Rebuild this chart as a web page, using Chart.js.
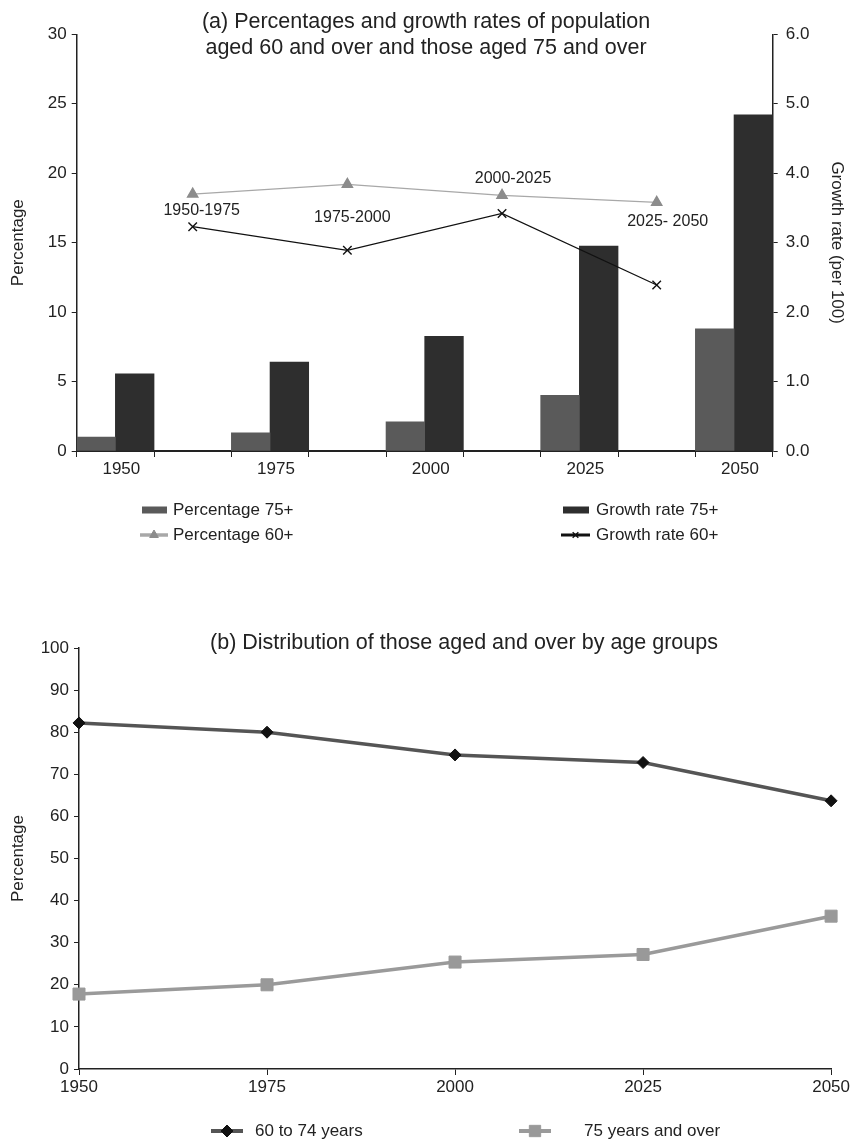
<!DOCTYPE html>
<html>
<head>
<meta charset="utf-8">
<script src="https://cdn.jsdelivr.net/npm/chart.js@4.4.0/dist/chart.umd.min.js"></script>
<style>
	body { margin: 0; background: #fff; }
	#wrap { position: relative; width: 852px; height: 1139px; }
	.box { position: absolute; left: 0; width: 852px; }
</style>
</head>
<body>
<div id="wrap">
	<div class="box" style="top: 0; height: 560px"><canvas id="top" width="852" height="560"></canvas></div>
	<div class="box" style="top: 560px; height: 579px"><canvas id="bottom" width="852" height="579"></canvas></div>
</div>
<script>
// years on the axis, and the periods in between them
const years = ["1950", "1975", "2000", "2025", "2050"]
const periods = ["1950-1975", "1975-2000", "2000-2025", "2025- 2050"]

// (a) bars, one per year
const pct75 = [1.0, 1.3, 2.1, 4.0, 8.8]          // left axis
const growth75 = [1.11, 1.28, 1.65, 2.95, 4.84]  // right axis

// (a) lines, one per period
const pct60 = [18.5, 19.2, 18.4, 17.9]           // left axis
const growth60 = [3.23, 2.89, 3.42, 2.39]        // right axis

// (b) distribution by age group
const share6074 = [82.2, 80.0, 74.6, 72.8, 63.7]
const share75 = [17.8, 20.0, 25.4, 27.2, 36.3]

const FONT = '"Liberation Sans", Arial, sans-serif'
const INK = "#222"

Chart.defaults.font.family = FONT
Chart.defaults.font.size = 17
Chart.defaults.color = INK

// years and periods take turns on the top axis
const slots = []
years.forEach((y, i) => {
	slots.push(y)
	if (i < periods.length) slots.push(periods[i])
})
const onYears = (arr) => slots.map((_, i) => (i % 2 === 0 ? arr[i / 2] : null))
const onPeriods = (arr) => slots.map((_, i) => (i % 2 === 1 ? arr[(i - 1) / 2] : null))

/*
 * titles, legends and the period labels
 */
const decor = {
	id: "decor",
	afterDatasetsDraw(chart, args, opts) {
		if (!opts.periodShift) return
		const ctx = chart.ctx
		const meta = chart.getDatasetMeta(opts.periodDataset)
		ctx.save()
		ctx.font = "16px " + FONT
		ctx.fillStyle = INK
		ctx.textAlign = "center"
		ctx.textBaseline = "middle"
		periods.forEach((t, k) => {
			const p = meta.data[2 * k + 1]
			const [dx, dy] = opts.periodShift[k]
			ctx.fillText(t, p.x + dx, p.y + dy)
		})
		ctx.restore()
	},
	afterDraw(chart, args, opts) {
		const ctx = chart.ctx
		ctx.save()
		ctx.fillStyle = INK
		ctx.textBaseline = "middle"
		ctx.textAlign = "center"
		ctx.font = "21.5px " + FONT
		;(opts.title || []).forEach((t) => ctx.fillText(t.text, t.x, t.y))

		ctx.textAlign = "left"
		;(opts.legend || []).forEach((it) => {
			const ds = chart.data.datasets[it.ds]
			const type = ds.type || chart.config.type
			if (type === "bar") {
				ctx.fillStyle = ds.backgroundColor
				ctx.fillRect(it.x0, it.y - 3.5, it.x1 - it.x0, 7)
			} else {
				ctx.strokeStyle = ds.borderColor
				ctx.lineWidth = it.lw
				ctx.beginPath()
				ctx.moveTo(it.x0, it.y)
				ctx.lineTo(it.x1, it.y)
				ctx.stroke()
				ctx.fillStyle = ds.pointBackgroundColor || ds.borderColor
				ctx.strokeStyle = ds.pointBorderColor || ds.borderColor
				ctx.lineWidth = ds.pointBorderWidth || 1
				Chart.helpers.drawPoint(ctx, {
					pointStyle: ds.pointStyle,
					rotation: 0,
					radius: it.r,
					borderWidth: ctx.lineWidth,
				}, (it.x0 + it.x1) / 2, it.y)
			}
			ctx.font = "17px " + FONT
			ctx.fillStyle = INK
			ctx.fillText(ds.label, it.tx, it.y)
		})
		ctx.restore()
	},
}

const axisGrid = (len) => ({
	drawOnChartArea: false,
	tickLength: len,
	color: INK,
	lineWidth: 1,
})

new Chart(document.getElementById("top"), {
	type: "bar",
	data: {
		labels: slots,
		datasets: [
			{
				label: "Percentage 75+",
				data: onYears(pct75),
				backgroundColor: "#5a5a5a",
				yAxisID: "y",
				order: 2,
			},
			{
				label: "Growth rate 75+",
				data: onYears(growth75),
				backgroundColor: "#2e2e2e",
				yAxisID: "y2",
				order: 2,
			},
			{
				type: "line",
				label: "Percentage 60+",
				data: onPeriods(pct60),
				borderColor: "#a8a8a8",
				borderWidth: 1.3,
				pointStyle: "triangle",
				pointRadius: 6,
				pointBackgroundColor: "#8c8c8c",
				pointBorderColor: "#8c8c8c",
				spanGaps: true,
				yAxisID: "y",
				order: 1,
			},
			{
				type: "line",
				label: "Growth rate 60+",
				data: onPeriods(growth60),
				borderColor: "#111",
				borderWidth: 1.3,
				pointStyle: "crossRot",
				pointRadius: 6,
				pointBorderWidth: 1.4,
				pointBorderColor: "#111",
				spanGaps: true,
				yAxisID: "y2",
				order: 1,
			},
		],
	},
	options: {
		responsive: false,
		animation: false,
		datasets: { bar: { categoryPercentage: 1, barPercentage: 1 } },
		layout: { padding: { top: 34.3 } },
		plugins: {
			legend: { display: false },
			tooltip: { enabled: false },
			decor: {
				title: [
					{ text: "(a) Percentages and growth rates of population", x: 426, y: 22 },
					{ text: "aged 60 and over and those aged 75 and over", x: 426, y: 48 },
				],
				periodDataset: 2,
				periodShift: [[9, 17], [5, 33], [11, -17], [11, 19]],
				legend: [
					{ ds: 0, x0: 142, x1: 167, tx: 173, y: 510 },
					{ ds: 1, x0: 563, x1: 589, tx: 596, y: 510 },
					{ ds: 2, x0: 140, x1: 168, tx: 173, y: 535, lw: 3.5, r: 5 },
					{ ds: 3, x0: 561, x1: 590, tx: 596, y: 535, lw: 3, r: 4 },
				],
			},
		},
		scales: {
			x: {
				offset: true,
				grid: { ...axisGrid(6), offset: true },
				border: { color: INK, width: 2 },
				ticks: {
					autoSkip: false,
					maxRotation: 0,
					labelOffset: 6,
					padding: 2,
					callback: (v, i) => (i % 2 === 0 ? slots[i] : ""),
				},
				afterFit: (s) => { s.height = 109 },
			},
			y: {
				position: "left",
				min: 0,
				max: 30,
				ticks: { stepSize: 5, padding: 5 },
				grid: axisGrid(5),
				border: { color: INK, width: 1.5 },
				title: { display: true, text: "Percentage", padding: { top: 8, bottom: 0 } },
				afterFit: (s) => { s.width = 76.7 },
			},
			y2: {
				position: "right",
				min: 0,
				max: 6,
				ticks: { stepSize: 1, padding: 8, callback: (v) => v.toFixed(1) },
				grid: axisGrid(5),
				border: { color: INK, width: 1.5 },
				title: { display: true, text: "Growth rate (per 100)", padding: { top: 5, bottom: 0 } },
				afterFit: (s) => { s.width = 79.3 },
			},
		},
	},
	plugins: [decor],
})

new Chart(document.getElementById("bottom"), {
	type: "line",
	data: {
		labels: years,
		datasets: [
			{
				label: "60 to 74 years",
				data: share6074,
				borderColor: "#555",
				borderWidth: 3.5,
				pointStyle: "rectRot",
				pointRadius: 6,
				pointBackgroundColor: "#111",
				pointBorderColor: "#111",
				pointBorderWidth: 1,
				clip: false,
			},
			{
				label: "75 years and over",
				data: share75,
				borderColor: "#9a9a9a",
				borderWidth: 3.5,
				pointStyle: "rect",
				pointRadius: 8.5,
				pointBackgroundColor: "#999",
				pointBorderColor: "#999",
				pointBorderWidth: 1,
				clip: false,
			},
		],
	},
	options: {
		responsive: false,
		animation: false,
		layout: { padding: { top: 88, right: 20 } },
		plugins: {
			legend: { display: false },
			tooltip: { enabled: false },
			decor: {
				title: [
					{ text: "(b) Distribution of those aged and over by age groups", x: 464, y: 83 },
				],
				legend: [
					{ ds: 0, x0: 211, x1: 243, tx: 255, y: 571, lw: 4, r: 6 },
					{ ds: 1, x0: 519, x1: 551, tx: 584, y: 571, lw: 4, r: 8 },
				],
			},
		},
		scales: {
			x: {
				offset: false,
				grid: { ...axisGrid(6), offset: false },
				border: { color: INK, width: 1.5 },
				ticks: { autoSkip: false, maxRotation: 0, padding: 2 },
				afterFit: (s) => { s.height = 70 },
			},
			y: {
				min: 0,
				max: 100,
				ticks: { stepSize: 10, padding: 5 },
				grid: axisGrid(5),
				border: { color: INK, width: 1.5 },
				title: { display: true, text: "Percentage", padding: { top: 8, bottom: 0 } },
				afterFit: (s) => { s.width = 79 },
			},
		},
	},
	plugins: [decor],
})
</script>
</body>
</html>
